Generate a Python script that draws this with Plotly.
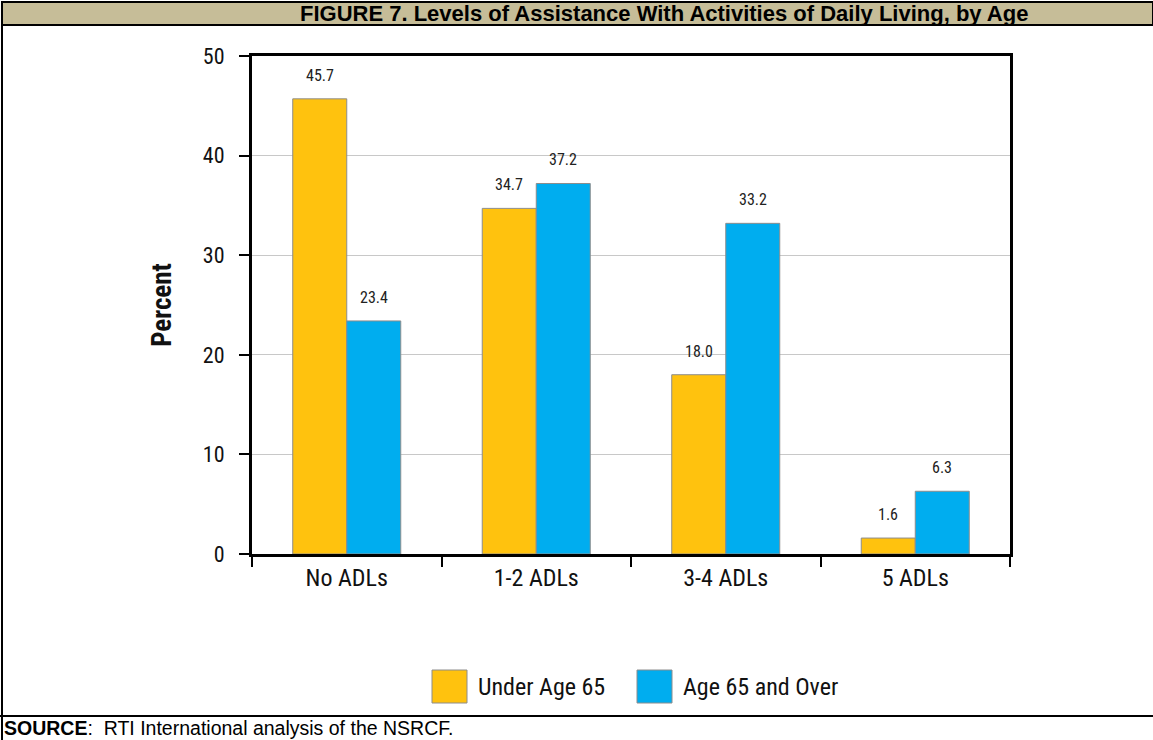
import plotly.graph_objects as go

categories = ["No ADLs", "1-2 ADLs", "3-4 ADLs", "5 ADLs"]
under_65 = [45.7, 34.7, 18.0, 1.6]
age_65_over = [23.4, 37.2, 33.2, 6.3]
series_names = ["Under Age 65", "Age 65 and Over"]
y_ticks = [0, 10, 20, 30, 40, 50]

W, H = 1153, 740
ORANGE = "#FFC20E"
BLUE = "#00ADEF"
COND = "Liberation Sans Narrow, Arial Narrow, Roboto Condensed, Roboto, sans-serif"
PLOT_L, PLOT_R, PLOT_T, PLOT_B = 252, 1010, 56, 554
BARGAP = 0.43

def px_x(v):
    return v / W

def px_y(v):
    return 1 - v / H

series = [(series_names[0], under_65, ORANGE), (series_names[1], age_65_over, BLUE)]

fig = go.Figure()
for name, vals, col in series:
    fig.add_trace(go.Bar(
        x=categories, y=vals, name=name,
        marker=dict(color=col, line=dict(color="#8c8c8c", width=1)),
        showlegend=False,
    ))

fig.update_layout(
    width=W, height=H,
    margin=dict(l=0, r=0, t=0, b=0, pad=0, autoexpand=False),
    paper_bgcolor="white", plot_bgcolor="white",
    showlegend=False,
    barmode="group", bargap=BARGAP, bargroupgap=0,
    xaxis=dict(
        domain=[px_x(PLOT_L), px_x(PLOT_R)],
        showline=True, linecolor="black", linewidth=3, mirror=True,
        ticks="outside", tickson="boundaries", ticklen=10, tickwidth=2, tickcolor="black",
        tickfont=dict(family=COND, size=24, color="#111111"),
        showgrid=False, automargin=False,
    ),
    yaxis=dict(
        domain=[px_y(PLOT_B), px_y(PLOT_T)],
        range=[0, 50], tickvals=y_ticks,
        showline=True, linecolor="black", linewidth=3, mirror=True,
        ticks="outside", ticklen=10, tickwidth=2, tickcolor="black",
        ticklabelstandoff=10,
        tickfont=dict(family=COND, size=22, color="#111111"),
        showgrid=True, gridcolor="#c8c8c8", gridwidth=1,
        zeroline=False, automargin=False,
        title=dict(text="<b>Percent</b>", font=dict(family=COND, size=27, color="#111111"), standoff=24),
    ),
)

annotations = []
# value labels above bars (positioned from the data through the x/y axes)
cat_w = (PLOT_R - PLOT_L) / len(categories)
bar_w = cat_w * (1 - BARGAP) / len(series)
for i, (name, vals, col) in enumerate(series):
    shift = (i - (len(series) - 1) / 2) * bar_w
    for c, v in zip(categories, vals):
        annotations.append(dict(xref="x", yref="y", x=c, y=v, text=f"{v:.1f}",
                                xshift=shift, yshift=12, showarrow=False,
                                xanchor="center", yanchor="bottom",
                                font=dict(family=COND, size=16, color="#222222")))

shapes = []
# title band
shapes.append(dict(type="rect", xref="paper", yref="paper", x0=px_x(2), x1=px_x(1153), y0=px_y(25), y1=px_y(2),
                   fillcolor="#C6BD98", line=dict(color="black", width=2), layer="below"))
# left border
shapes.append(dict(type="line", xref="paper", yref="paper", x0=px_x(2), x1=px_x(2), y0=px_y(740), y1=px_y(2),
                   line=dict(color="black", width=2)))
# bottom separator
shapes.append(dict(type="line", xref="paper", yref="paper", x0=0, x1=1, y0=px_y(716), y1=px_y(716),
                   line=dict(color="black", width=2)))
# legend swatches
legend_items = [(series_names[0], ORANGE, 432), (series_names[1], BLUE, 637)]
for name, col, x0 in legend_items:
    shapes.append(dict(type="rect", xref="paper", yref="paper", x0=px_x(x0), x1=px_x(x0 + 35),
                       y0=px_y(703), y1=px_y(670), fillcolor=col, line=dict(color="#8c8c8c", width=1)))
    annotations.append(dict(xref="paper", yref="paper", x=px_x(x0 + 44), y=px_y(687), text=name,
                            showarrow=False, xanchor="left", yanchor="middle",
                            font=dict(family=COND, size=24, color="#111111")))

annotations.append(dict(xref="paper", yref="paper", x=px_x(664), y=px_y(13.5),
                        text="<b>FIGURE 7. Levels of Assistance With Activities of Daily Living, by Age</b>",
                        showarrow=False, xanchor="center", yanchor="middle",
                        font=dict(family="Liberation Sans, Arial, sans-serif", size=22, color="black")))
annotations.append(dict(xref="paper", yref="paper", x=px_x(2), y=px_y(728),
                        text="<b>SOURCE</b>:  RTI International analysis of the NSRCF.",
                        showarrow=False, xanchor="left", yanchor="middle",
                        font=dict(family="Liberation Sans, Arial, sans-serif", size=19.5, color="black")))

fig.update_layout(shapes=shapes, annotations=annotations)
fig.write_html(
    "out.html",
    config={"displayModeBar": False},
    post_script="document.body.style.margin='0';document.body.style.overflow='hidden';",
)
